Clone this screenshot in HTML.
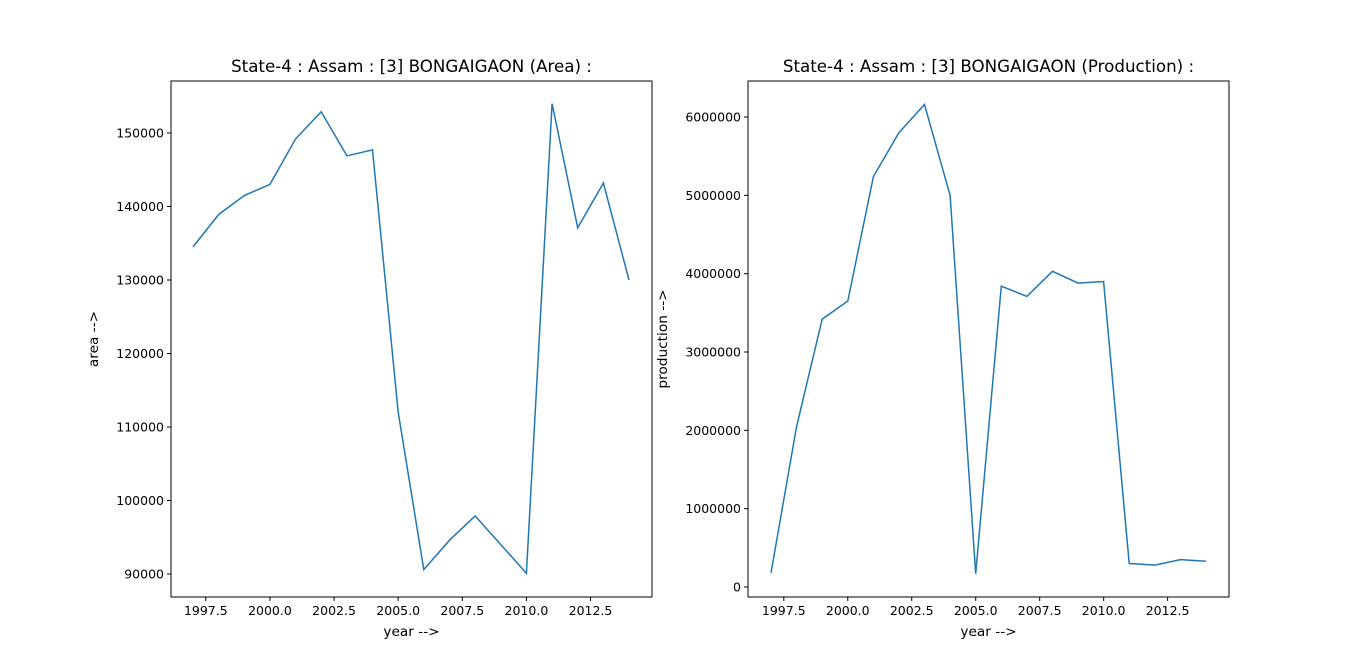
<!DOCTYPE html>
<html><head><meta charset="utf-8"><style>
html,body{margin:0;padding:0;background:#fff;}
svg{display:block;font-family:"DejaVu Sans","Liberation Sans",sans-serif;}
</style></head><body>
<svg id="s" width="1366" height="671" xmlns="http://www.w3.org/2000/svg"></svg>
<script>
const s=document.getElementById('s');let h='';
function panel(L,R,T,B,x0px,x1px,yf,yt,yl,data,title,ylabel){
  h+=`<rect x="${L}" y="${T}" width="${R-L}" height="${B-T}" fill="#fff" stroke="#000" stroke-width="1"/>`;
  const xp=y=>x0px+(y-1997)*(x1px-x0px)/17;
  [1997.5,2000,2002.5,2005,2007.5,2010,2012.5].forEach(v=>{const x=xp(v);
    h+=`<line x1="${x}" y1="${B}" x2="${x}" y2="${B+4}" stroke="#000"/>`;
    h+=`<text x="${x}" y="${B+18}" font-size="12.5" text-anchor="middle">${v.toFixed(1)}</text>`;});
  yt.forEach(v=>{const y=yf(v);
    h+=`<line x1="${L-4}" y1="${y}" x2="${L}" y2="${y}" stroke="#000"/>`;
    h+=`<text x="${L-7}" y="${y+4.5}" font-size="12.5" text-anchor="end">${v}</text>`;});
  let p=data.map((d,i)=>`${xp(1997+i).toFixed(1)},${yf(d).toFixed(1)}`).join(' ');
  h+=`<polyline points="${p}" fill="none" stroke="#1f77b4" stroke-width="1.5"/>`;
  h+=`<text x="${(L+R)/2}" y="${B+39}" font-size="13.7" text-anchor="middle">year --&gt;</text>`;
  h+=`<text x="${(L+R)/2}" y="${T-9}" font-size="16.7" text-anchor="middle">${title}</text>`;
  h+=`<text transform="translate(${yl},${(T+B)/2}) rotate(-90)" font-size="13.7" text-anchor="middle">${ylabel}</text>`;
}
panel(171,652,81,597,193,629,v=>574-(v-90000)*73.5/10000,[90000,100000,110000,120000,130000,140000,150000],98,
[134500,138900,141500,143000,149200,152900,146900,147700,112000,90600,94600,97900,94000,90100,154000,137100,143200,130000],
'State-4 : Assam : [3] BONGAIGAON (Area) :','area --&gt;');
panel(748,1229,81,597,771,1206,v=>587-v*78.33/1000000,[0,1000000,2000000,3000000,4000000,5000000,6000000],667,
[180000,2050000,3420000,3650000,5240000,5800000,6160000,5000000,170000,3840000,3710000,4030000,3880000,3900000,300000,280000,350000,330000],
'State-4 : Assam : [3] BONGAIGAON (Production) :','production --&gt;');
s.innerHTML=h;
</script>
</body></html>
